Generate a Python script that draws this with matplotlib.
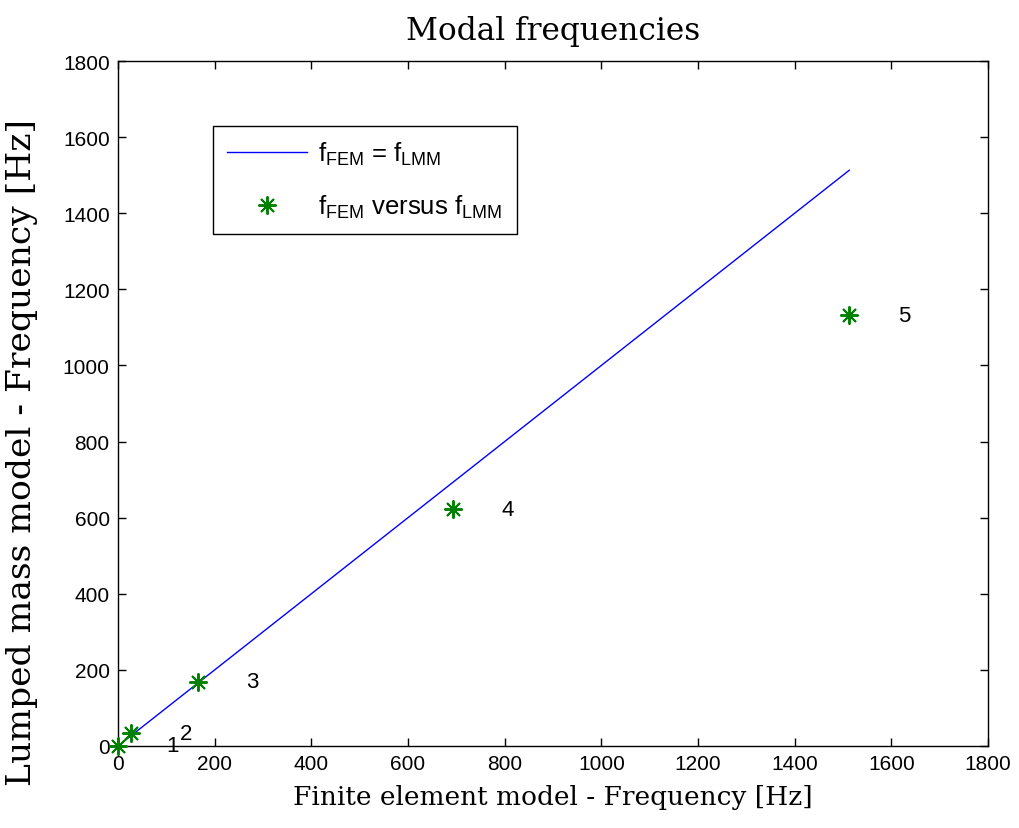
import matplotlib
matplotlib.use("Agg")
import matplotlib.pyplot as plt

plt.rcParams['font.family'] = ['Liberation Sans', 'DejaVu Sans']
plt.rcParams['mathtext.fontset'] = 'custom'
plt.rcParams['mathtext.rm'] = 'Liberation Sans'
plt.rcParams['mathtext.it'] = 'Liberation Sans'

# Data
f_fem = [0, 27, 166, 693, 1513]
f_lmm = [0, 33, 169, 622, 1132]
mode_labels = ['1', '2', '3', '4', '5']
label_offset = 100
line_x = [0, f_fem[-1]]
line_y = [0, f_fem[-1]]
xticks = [0, 200, 400, 600, 800, 1000, 1200, 1400, 1600, 1800]
yticks = [0, 200, 400, 600, 800, 1000, 1200, 1400, 1600, 1800]

fig = plt.figure(figsize=(10.19, 8.29), dpi=100)
ax = fig.add_axes([118/1019, 82/829, 870/1019, 685/829])

ax.plot(line_x, line_y, color='#0000ff', lw=1.0,
        label=r'$\mathregular{f_{FEM}}$ = $\mathregular{f_{LMM}}$')
ax.plot(f_fem, f_lmm, linestyle='none', marker=(8, 2, 0), markersize=13,
        markeredgewidth=1.4, color='#008000', clip_on=False, zorder=5,
        label=r'$\mathregular{f_{FEM}}$ versus $\mathregular{f_{LMM}}$')

for x, y, s in zip(f_fem, f_lmm, mode_labels):
    ax.text(x + label_offset, y, s, fontsize=16, ha='left', va='center')

ax.set_xlim(0, 1800)
ax.set_ylim(0, 1800)
ax.set_xticks(xticks)
ax.set_yticks(yticks)
ax.tick_params(direction='in', length=6, width=1, top=True, right=True, labelsize=15, pad=6)
for sp in ax.spines.values():
    sp.set_linewidth(1.0)

ax.set_title('Modal frequencies', fontfamily='DejaVu Serif', fontsize=22.5, pad=16)
ax.set_xlabel('Finite element model - Frequency [Hz]', fontfamily='DejaVu Serif', fontsize=19, labelpad=8)
ax.set_ylabel('Lumped mass model - Frequency [Hz]', fontfamily='DejaVu Serif', fontsize=24.8, labelpad=6)
ax.yaxis.set_label_coords(-0.092, 0.43)

leg = ax.legend(loc='upper left', bbox_to_anchor=(0.109, 0.905), borderaxespad=0,
                fancybox=False, framealpha=1, edgecolor='black', fontsize=18.5,
                handlelength=3.1, handletextpad=0.45, borderpad=0.55, labelspacing=1.0)
leg.get_frame().set_linewidth(1.0)

fig.savefig('out.png', dpi=100)
